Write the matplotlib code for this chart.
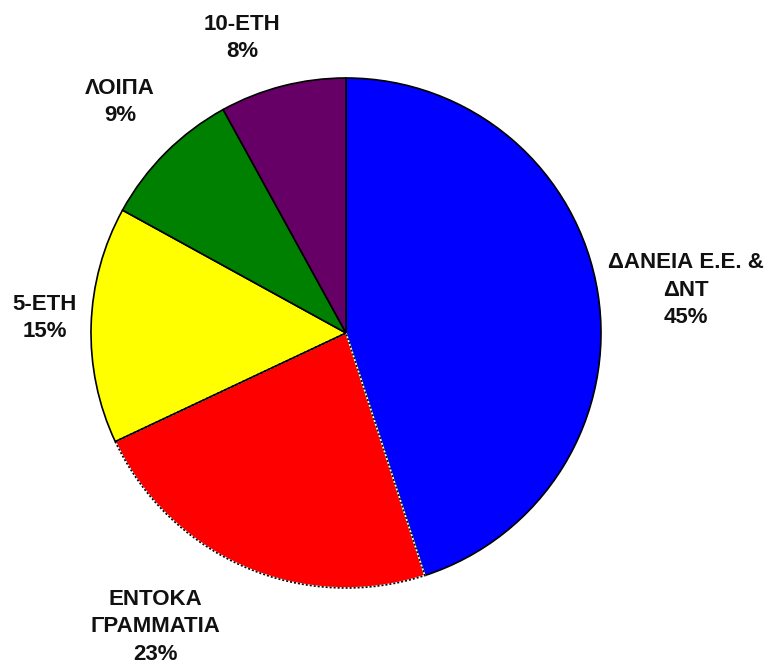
import matplotlib.pyplot as plt
from matplotlib.patches import Wedge

labels = ["ΔΑΝΕΙΑ Ε.Ε. &\nΔΝΤ", "ΕΝΤΟΚΑ\nΓΡΑΜΜΑΤΙΑ", "5-ΕΤΗ", "ΛΟΙΠΑ", "10-ΕΤΗ"]
shares = [45, 23, 15, 9, 8]
colors = ["#0000ff", "#ff0000", "#ffff00", "#008000", "#660066"]

# label centres in pixels of the reference image (x from left, y from top)
label_px = [(686, 290), (155, 627), (45, 318), (120, 102), (242, 38)]

W, H = 771, 671
cx, cy, r = 346, 333, 255

fig = plt.figure(figsize=(W / 100, H / 100), dpi=100)
ax = fig.add_axes([0, 0, 1, 1])

wedges, _ = ax.pie(shares, colors=colors, startangle=90, counterclock=False,
                   radius=1, wedgeprops=dict(edgecolor="black", linewidth=1.2))

# dotted border on the red slice
red = wedges[1]
red.set_edgecolor("white")
ax.add_patch(Wedge(red.center, red.r, red.theta1, red.theta2, fill=False,
                   edgecolor="black", linewidth=1.2, linestyle=(0, (1.2, 1.2))))

for lab, val, (px, py) in zip(labels, shares, label_px):
    ax.text((px - cx) / r, (cy - py) / r, f"{lab}\n{val}%", ha="center", va="center",
            fontsize=16, fontweight="bold", family="Liberation Sans",
            color="#111111", linespacing=1.4)

ax.set_xlim(-cx / r, (W - cx) / r)
ax.set_ylim(-(H - cy) / r, cy / r)
ax.set_aspect("auto")
ax.axis("off")

fig.savefig("out.png", dpi=100, facecolor="white")
